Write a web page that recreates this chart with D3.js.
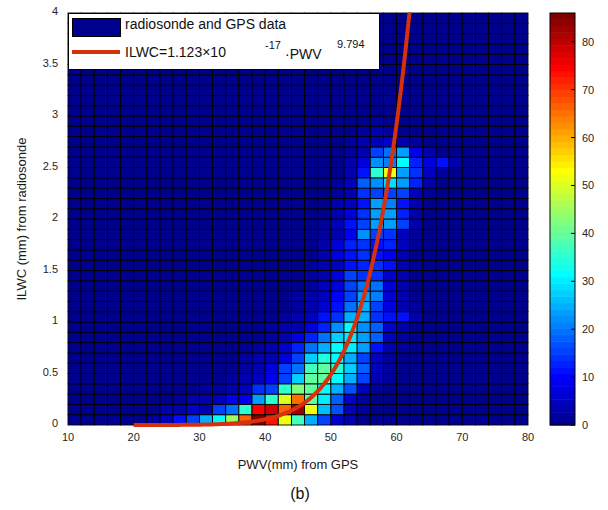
<!DOCTYPE html>
<html>
<head>
<meta charset="utf-8">
<script src="https://cdn.jsdelivr.net/npm/d3@7"></script>
<style>
  body { margin: 0; background: #fff; }
  text { font-family: "Liberation Sans", Arial, sans-serif; }
</style>
</head>
<body>
<div id="chart"></div>
<script>

// bin starts (PWV in mm, ILWC in mm)
var pwvBins = [10, 12, 14, 16, 18, 20, 22, 24, 26, 28, 30, 32, 34, 36, 38, 40, 42, 44,
               46, 48, 50, 52, 54, 56, 58, 60, 62, 64, 66, 68, 70, 72, 74, 76, 78];
var ilwcBins = [0, 0.1, 0.2, 0.3, 0.4, 0.5, 0.6, 0.7, 0.8, 0.9, 1.0, 1.1, 1.2, 1.3,
                1.4, 1.5, 1.6, 1.7, 1.8, 1.9, 2.0, 2.1, 2.2, 2.3, 2.4, 2.5, 2.6, 2.7,
                2.8, 2.9, 3.0, 3.1, 3.2, 3.3, 3.4, 3.5, 3.6, 3.7, 3.8, 3.9];

// counts per cell, first row = lowest ILWC bin
var counts = [
  [0,0,0,0,0, 1,2,5,11,15, 25,31,45,66,85, 73,52,37,25,16, 6,3,1,1,0, 0,0,0,0,0, 0,0,0,0,0],
  [0,0,0,0,0, 1,1,3,3,6, 4,16,19,36,75, 79,66,82,52,26, 17,5,2,1,1, 0,0,0,0,0, 0,0,0,0,0],
  [0,0,0,0,0, 0,1,1,2,3, 3,5,9,9,23, 35,51,65,40,30, 18,6,2,1,1, 0,0,0,0,0, 0,0,0,0,0],
  [0,0,0,0,0, 0,0,1,1,1, 2,2,3,5,14, 16,36,42,40,32, 25,17,5,2,1, 1,0,0,0,0, 0,0,0,0,0],
  [0,0,0,0,0, 0,0,0,1,1, 1,1,2,3,5, 9,16,28,40,39, 32,25,15,4,2, 1,1,0,0,0, 0,0,0,0,0],
  [0,0,0,0,0, 0,0,0,0,1, 1,1,1,2,4, 8,15,19,37,39, 34,28,18,5,2, 1,1,0,0,0, 0,0,0,0,0],
  [0,0,0,0,0, 0,0,0,0,0, 1,1,1,2,3, 4,8,16,27,34, 31,25,16,5,2, 1,0,0,0,0, 0,0,0,0,0],
  [0,0,0,0,0, 0,0,0,0,0, 0,1,1,1,2, 3,6,13,19,25, 32,30,23,12,4, 2,1,0,0,0, 0,0,0,0,0],
  [0,0,0,0,0, 0,0,0,0,0, 0,0,1,1,1, 2,4,7,13,19, 27,30,23,18,5, 2,1,0,0,0, 0,0,0,0,0],
  [0,0,0,0,0, 0,0,0,0,0, 0,0,0,1,1, 2,3,4,7,13, 22,31,22,18,6, 3,1,0,0,0, 0,0,0,0,0],
  [0,0,0,0,0, 0,0,0,0,0, 0,0,0,0,1, 1,2,3,5,11, 14,25,25,14,12, 11,3,1,0,0, 0,0,0,0,0],
  [0,0,0,0,0, 0,0,0,0,0, 0,0,0,0,0, 1,1,2,4,6, 11,20,25,15,7, 4,2,1,0,0, 0,0,0,0,0],
  [0,0,0,0,0, 0,0,0,0,0, 0,0,0,0,0, 0,1,2,3,5, 10,16,23,21,6, 3,1,1,0,0, 0,0,0,0,0],
  [0,0,0,0,0, 0,0,0,0,0, 0,0,0,0,0, 0,1,1,2,5, 8,16,20,20,7, 3,1,0,0,0, 0,0,0,0,0],
  [0,0,0,0,0, 0,0,0,0,0, 0,0,0,0,0, 0,0,1,2,4, 7,15,14,14,6, 3,1,0,0,0, 0,0,0,0,0],
  [0,0,0,0,0, 0,0,0,0,0, 0,0,0,0,0, 0,0,1,2,3, 5,12,13,14,12, 4,2,1,0,0, 0,0,0,0,0],
  [0,0,0,0,0, 0,0,0,0,0, 0,0,0,0,0, 0,0,0,1,3, 7,12,14,12,9, 3,1,0,0,0, 0,0,0,0,0],
  [0,0,0,0,0, 0,0,0,0,0, 0,0,0,0,0, 0,0,0,1,3, 8,13,14,12,13, 5,2,1,0,0, 0,0,0,0,0],
  [0,0,0,0,0, 0,0,0,0,0, 0,0,0,0,0, 0,0,0,1,2, 4,9,22,16,14, 5,2,1,0,0, 0,0,0,0,0],
  [0,0,0,0,0, 0,0,0,0,0, 0,0,0,0,0, 0,0,0,1,2, 5,12,15,24,23, 15,4,1,0,0, 0,0,0,0,0],
  [0,0,0,0,0, 0,0,0,0,0, 0,0,0,0,0, 0,0,0,0,1, 4,8,14,24,23, 13,4,1,0,0, 0,0,0,0,0],
  [0,0,0,0,0, 0,0,0,0,0, 0,0,0,0,0, 0,0,0,0,1, 3,5,12,23,21, 12,4,1,0,0, 0,0,0,0,0],
  [0,0,0,0,0, 0,0,0,0,0, 0,0,0,0,0, 0,0,0,0,1, 2,4,14,16,15, 15,5,2,0,0, 0,0,0,0,0],
  [0,0,0,0,0, 0,0,0,0,0, 0,0,0,0,0, 0,0,0,0,1, 2,5,18,22,29, 24,13,4,1,0, 0,0,0,0,0],
  [0,0,0,0,0, 0,0,0,0,0, 0,0,0,0,0, 0,0,0,0,0, 1,4,12,36,52, 24,14,5,2,1, 0,0,0,0,0],
  [0,0,0,0,0, 0,0,0,0,0, 0,0,0,0,0, 0,0,0,0,0, 1,3,8,22,21, 32,13,7,12,3, 0,0,0,0,0],
  [0,0,0,0,0, 0,0,0,0,0, 0,0,0,0,0, 0,0,0,0,0, 1,2,4,15,19, 24,9,3,1,0, 0,0,0,0,0],
  [0,0,0,0,0, 0,0,0,0,0, 0,0,0,0,0, 0,0,0,0,0, 0,2,3,5,6, 4,2,1,0,0, 0,0,0,0,0],
  [0,0,0,0,0, 0,0,0,0,0, 0,0,0,0,0, 0,0,0,0,0, 0,1,2,3,2, 1,1,0,0,0, 0,0,0,0,0],
  [0,0,0,0,0, 0,0,0,0,0, 0,0,0,0,0, 0,0,0,0,0, 0,0,1,2,1, 1,0,0,0,0, 0,0,0,0,0],
  [0,0,0,0,0, 0,0,0,0,0, 0,0,0,0,0, 0,0,0,0,0, 0,0,0,1,1, 0,0,0,0,0, 0,0,0,0,0],
  [0,0,0,0,0, 0,0,0,0,0, 0,0,0,0,0, 0,0,0,0,0, 0,0,1,0,1, 0,0,0,0,0, 0,0,0,0,0],
  [0,0,0,0,0, 0,0,0,0,0, 0,0,0,0,0, 0,0,0,0,0, 0,0,0,1,0, 0,0,0,0,0, 0,0,0,0,0],
  [0,0,0,0,0, 0,0,0,0,0, 0,0,0,0,0, 0,0,0,0,0, 0,0,0,0,1, 0,0,0,0,0, 0,0,0,0,0],
  [0,0,0,0,0, 0,0,0,0,0, 0,0,0,0,0, 0,0,0,0,0, 0,0,0,0,0, 0,0,0,0,0, 0,0,0,0,0],
  [0,0,0,0,0, 0,0,0,0,0, 0,0,0,0,0, 0,0,0,0,0, 0,0,0,1,0, 0,0,0,0,0, 0,0,0,0,0],
  [0,0,0,0,0, 0,0,0,0,0, 0,0,0,0,0, 0,0,0,0,0, 0,0,0,0,0, 0,0,0,0,0, 0,0,0,0,0],
  [0,0,0,0,0, 0,0,0,0,0, 0,0,0,0,0, 0,0,0,0,0, 0,0,0,0,0, 0,0,0,0,0, 0,0,0,0,0],
  [0,0,0,0,0, 0,0,0,0,0, 0,0,0,0,0, 0,0,0,0,0, 0,0,0,0,0, 0,0,0,0,0, 0,0,0,0,0],
  [0,0,0,0,0, 0,0,0,0,0, 0,0,0,0,0, 0,0,0,0,0, 0,0,0,0,0, 0,0,0,0,0, 0,0,0,0,0]
];

var xTicks = [10, 20, 30, 40, 50, 60, 70, 80];
var yTicks = [0, 0.5, 1, 1.5, 2, 2.5, 3, 3.5, 4];
var colorTicks = [0, 10, 20, 30, 40, 50, 60, 70, 80];
var colorMax = 86;

// fitted power law shown in the legend
var fitCoef = 1.123e-17;
var fitExp = 9.794;
var fitStart = 20;

var svgWidth = 608;
var svgHeight = 510;
var plot = { left: 68, right: 528, top: 13, bottom: 425 };
var bar = { left: 550, right: 575 };

var svg = d3.select("#chart")
  .append("svg")
  .attr("width", svgWidth)
  .attr("height", svgHeight);

svg.append("rect")
  .attr("width", svgWidth)
  .attr("height", svgHeight)
  .attr("fill", "#fff");

// MATLAB jet(64)
function jet64(i) {
  var u = [];
  for (var k = 1; k <= 16; k++) u.push(k / 16);
  for (var k = 0; k < 15; k++) u.push(1);
  for (var k = 16; k >= 1; k--) u.push(k / 16);
  var n = i + 1;
  var r = n >= 25 ? u[n - 25] : 0;
  var g = (n >= 9 && n <= 55) ? u[n - 9] : 0;
  var b = n <= 39 ? u[n + 7] : 0;
  return d3.rgb(r * 255, g * 255, b * 255).toString();
}

function colorOf(v) {
  var idx = Math.floor(v / colorMax * 64);
  return jet64(Math.max(0, Math.min(63, idx)));
}

// scales
var xScale = d3.scaleLinear().domain([10, 80]).range([plot.left, plot.right]);
var yScale = d3.scaleLinear().domain([0, 4]).range([plot.bottom, plot.top]);
var xBand = d3.scaleBand().domain(pwvBins).range([plot.left, plot.right]);
var yBand = d3.scaleBand().domain(ilwcBins.slice().reverse()).range([plot.top, plot.bottom]);

// cells
var cells = [];
counts.forEach(function(row, j) {
  row.forEach(function(c, i) {
    cells.push({ pwv: pwvBins[i], ilwc: ilwcBins[j], count: c });
  });
});

svg.append("g").selectAll("rect")
  .data(cells)
  .enter()
  .append("rect")
  .attr("x", d => xBand(d.pwv))
  .attr("y", d => yBand(d.ilwc))
  .attr("width", xBand.bandwidth())
  .attr("height", yBand.bandwidth())
  .attr("fill", d => colorOf(d.count))
  .attr("stroke", "#000")
  .attr("stroke-width", 0.9);

// fit curve
svg.append("clipPath")
  .attr("id", "clipTop")
  .append("rect")
  .attr("x", 0)
  .attr("y", plot.top)
  .attr("width", svgWidth)
  .attr("height", svgHeight);

var curvePts = d3.range(fitStart, 80.001, 0.1).map(function(p) {
  return { pwv: p, ilwc: fitCoef * Math.pow(p, fitExp) };
}).filter(d => d.ilwc < 4.3);

var line = d3.line()
  .x(d => xScale(d.pwv))
  .y(d => yScale(d.ilwc));

svg.append("path")
  .datum(curvePts)
  .attr("clip-path", "url(#clipTop)")
  .attr("d", line)
  .attr("fill", "none")
  .attr("stroke", "#d7300b")
  .attr("stroke-width", 4);

// tick labels
svg.append("g").selectAll("text")
  .data(xTicks)
  .enter()
  .append("text")
  .attr("x", d => xScale(d))
  .attr("y", plot.bottom + 16)
  .attr("text-anchor", "middle")
  .attr("font-size", "11px")
  .attr("fill", "#262626")
  .text(d => d);

svg.append("g").selectAll("text")
  .data(yTicks)
  .enter()
  .append("text")
  .attr("x", plot.left - 10)
  .attr("y", d => yScale(d) + 2)
  .attr("text-anchor", "end")
  .attr("font-size", "11px")
  .attr("fill", "#262626")
  .text(d => d);

// axis labels
svg.append("text")
  .attr("x", (plot.left + plot.right) / 2)
  .attr("y", 469)
  .attr("text-anchor", "middle")
  .attr("font-size", "13px")
  .attr("fill", "#1a1a1a")
  .text("PWV(mm) from GPS");

svg.append("text")
  .attr("transform", "translate(26," + ((plot.top + plot.bottom) / 2) + ") rotate(-90)")
  .attr("text-anchor", "middle")
  .attr("font-size", "13px")
  .attr("fill", "#1a1a1a")
  .text("ILWC (mm) from radiosonde");

svg.append("text")
  .attr("x", 300)
  .attr("y", 499)
  .attr("text-anchor", "middle")
  .attr("font-size", "16px")
  .attr("font-family", "'Liberation Serif', 'Times New Roman', serif")
  .attr("fill", "#111")
  .text("(b)");

// colorbar
var cScale = d3.scaleLinear().domain([0, colorMax]).range([plot.bottom, plot.top]);
var bands = d3.range(64);
svg.append("g").selectAll("rect")
  .data(bands)
  .enter()
  .append("rect")
  .attr("x", bar.left)
  .attr("y", i => cScale((i + 1) * colorMax / 64))
  .attr("width", bar.right - bar.left)
  .attr("height", i => cScale(i * colorMax / 64) - cScale((i + 1) * colorMax / 64) + 0.5)
  .attr("fill", i => jet64(i));

svg.append("rect")
  .attr("x", bar.left)
  .attr("y", plot.top)
  .attr("width", bar.right - bar.left)
  .attr("height", plot.bottom - plot.top)
  .attr("fill", "none")
  .attr("stroke", "#000")
  .attr("stroke-width", 1);

svg.append("g").selectAll("line")
  .data(colorTicks)
  .enter()
  .append("line")
  .attr("x1", bar.right - 4)
  .attr("x2", bar.right)
  .attr("y1", d => cScale(d))
  .attr("y2", d => cScale(d))
  .attr("stroke", "#000");

svg.append("g").selectAll("text")
  .data(colorTicks)
  .enter()
  .append("text")
  .attr("x", bar.right + 7)
  .attr("y", d => cScale(d) + 4)
  .attr("font-size", "11px")
  .attr("fill", "#262626")
  .text(d => d);

// legend
var legend = svg.append("g");
legend.append("rect")
  .attr("x", 68.5)
  .attr("y", 13.5)
  .attr("width", 311)
  .attr("height", 56)
  .attr("fill", "#fff")
  .attr("stroke", "#000");

legend.append("rect")
  .attr("x", 72.5)
  .attr("y", 18.5)
  .attr("width", 48)
  .attr("height", 18)
  .attr("fill", colorOf(0))
  .attr("stroke", "#000");

legend.append("text")
  .attr("x", 125)
  .attr("y", 29)
  .attr("font-size", "14px")
  .attr("fill", "#111")
  .text("radiosonde and GPS data");

legend.append("line")
  .attr("x1", 72)
  .attr("x2", 120)
  .attr("y1", 52)
  .attr("y2", 52)
  .attr("stroke", "#d7300b")
  .attr("stroke-width", 4);

legend.append("text")
  .attr("x", 125)
  .attr("y", 57)
  .attr("font-size", "14px")
  .attr("fill", "#111")
  .text("ILWC=1.123\u00d710");

legend.append("text")
  .attr("x", 265)
  .attr("y", 49)
  .attr("font-size", "11px")
  .attr("fill", "#111")
  .text("-17");

legend.append("text")
  .attr("x", 285)
  .attr("y", 59)
  .attr("font-size", "14px")
  .attr("fill", "#111")
  .text("\u00b7PWV");

legend.append("text")
  .attr("x", 337)
  .attr("y", 48)
  .attr("font-size", "11px")
  .attr("fill", "#111")
  .text("9.794");

</script>
</body>
</html>
